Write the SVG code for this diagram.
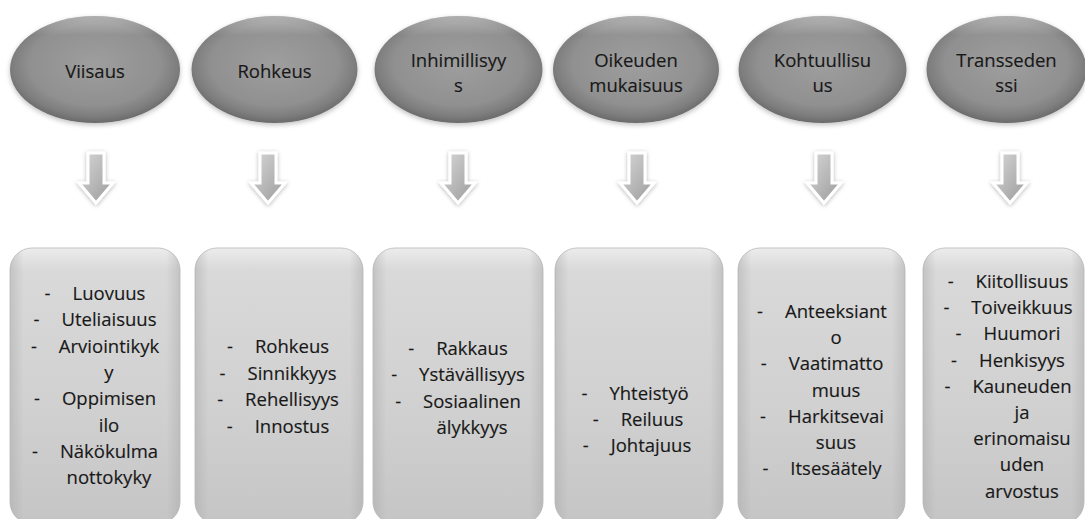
<svg xmlns="http://www.w3.org/2000/svg" width="1085" height="519" viewBox="0 0 1085 519">
  <defs>
    <radialGradient id="ovalFill" cx="50%" cy="45%" r="55%">
      <stop offset="0" stop-color="#9e9e9e"/>
      <stop offset="0.7" stop-color="#909090"/>
      <stop offset="0.88" stop-color="#7e7e7e"/>
      <stop offset="1" stop-color="#6a6a6a"/>
    </radialGradient>
    <linearGradient id="ovalShine" x1="0" y1="0" x2="0" y2="1">
      <stop offset="0" stop-color="#ffffff" stop-opacity="0.35"/>
      <stop offset="0.18" stop-color="#ffffff" stop-opacity="0"/>
      <stop offset="1" stop-color="#ffffff" stop-opacity="0"/>
    </linearGradient>
    <linearGradient id="boxFill" x1="0" y1="0" x2="0" y2="1">
      <stop offset="0" stop-color="#ececec"/>
      <stop offset="0.08" stop-color="#d9d9d9"/>
      <stop offset="0.6" stop-color="#d0d0d0"/>
      <stop offset="1" stop-color="#c5c5c5"/>
    </linearGradient>
    <linearGradient id="boxSides" x1="0" y1="0" x2="1" y2="0">
      <stop offset="0" stop-color="#a8a8a8" stop-opacity="0.45"/>
      <stop offset="0.08" stop-color="#a8a8a8" stop-opacity="0"/>
      <stop offset="0.92" stop-color="#a8a8a8" stop-opacity="0"/>
      <stop offset="1" stop-color="#a8a8a8" stop-opacity="0.45"/>
    </linearGradient>
    <linearGradient id="arrowFill" x1="0" y1="0" x2="1" y2="1">
      <stop offset="0" stop-color="#d8d8d8"/>
      <stop offset="1" stop-color="#9a9a9a"/>
    </linearGradient>
    <filter id="softShadow" x="-10%" y="-10%" width="120%" height="130%">
      <feGaussianBlur in="SourceAlpha" stdDeviation="2.5"/>
      <feOffset dy="2" result="b"/>
      <feFlood flood-color="#000" flood-opacity="0.25"/>
      <feComposite in2="b" operator="in"/>
      <feMerge><feMergeNode/><feMergeNode in="SourceGraphic"/></feMerge>
    </filter>
    <filter id="arrowGlow" x="-40%" y="-20%" width="180%" height="150%">
      <feGaussianBlur in="SourceAlpha" stdDeviation="2"/>
      <feOffset dy="1" result="b"/>
      <feFlood flood-color="#000" flood-opacity="0.3"/>
      <feComposite in2="b" operator="in"/>
      <feMerge><feMergeNode/><feMergeNode in="SourceGraphic"/></feMerge>
    </filter>
    <path id="downArrow" d="M-8,153 H8 V183 H17 L0,203 L-17,183 H-8 Z"/>
  </defs>
  <style>
    .oval { fill: url(#ovalFill); filter: url(#softShadow); }
    .shine { fill: url(#ovalShine); }
    .box { fill: url(#boxFill); stroke: #c4c4c4; stroke-width: 1; }
    .sides { fill: url(#boxSides); }
    .arrow { fill: url(#arrowFill); stroke: #ffffff; stroke-width: 3; stroke-linejoin: miter; filter: url(#arrowGlow); }
    text { font-family: "Open Sans", "Noto Sans", "DejaVu Sans", sans-serif; font-size: 18.5px; fill: #181818; stroke: #181818; stroke-width: 0.15; text-anchor: middle; }
  </style>

  <rect width="1085" height="519" fill="#ffffff"/>

  <!-- top row: virtue ovals -->
  <g id="oval-viisaus">
    <ellipse class="oval" cx="95" cy="69.5" rx="85" ry="53.5"/>
    <ellipse class="shine" cx="95" cy="69.5" rx="85" ry="53.5"/>
    <text x="95" y="77.5">Viisaus</text>
  </g>
  <g id="oval-rohkeus">
    <ellipse class="oval" cx="274.5" cy="69.5" rx="83" ry="53.5"/>
    <ellipse class="shine" cx="274.5" cy="69.5" rx="83" ry="53.5"/>
    <text x="274.5" y="77.5">Rohkeus</text>
  </g>
  <g id="oval-inhimillisyys">
    <ellipse class="oval" cx="458.5" cy="69.5" rx="84" ry="53.5"/>
    <ellipse class="shine" cx="458.5" cy="69.5" rx="84" ry="53.5"/>
    <text x="458.5" y="66.5">Inhimillisyy</text>
    <text x="458.5" y="92">s</text>
  </g>
  <g id="oval-oikeudenmukaisuus">
    <ellipse class="oval" cx="636" cy="69.5" rx="83" ry="53.5"/>
    <ellipse class="shine" cx="636" cy="69.5" rx="83" ry="53.5"/>
    <text x="636" y="66.5">Oikeuden</text>
    <text x="636" y="92">mukaisuus</text>
  </g>
  <g id="oval-kohtuullisuus">
    <ellipse class="oval" cx="822.5" cy="69.5" rx="84" ry="53.5"/>
    <ellipse class="shine" cx="822.5" cy="69.5" rx="84" ry="53.5"/>
    <text x="822.5" y="66.5">Kohtuullisu</text>
    <text x="822.5" y="92">us</text>
  </g>
  <g id="oval-transsendenssi">
    <ellipse class="oval" cx="1006.5" cy="69.5" rx="80" ry="53.5"/>
    <ellipse class="shine" cx="1006.5" cy="69.5" rx="80" ry="53.5"/>
    <text x="1006.5" y="66.5">Transseden</text>
    <text x="1006.5" y="92">ssi</text>
  </g>

  <!-- connectors: block arrows from each oval down to its list -->
  <g id="connectors">
    <use href="#downArrow" class="arrow" x="96"/>
    <use href="#downArrow" class="arrow" x="268"/>
    <use href="#downArrow" class="arrow" x="458"/>
    <use href="#downArrow" class="arrow" x="637"/>
    <use href="#downArrow" class="arrow" x="824"/>
    <use href="#downArrow" class="arrow" x="1010"/>
  </g>

  <!-- bottom row: strength lists -->
  <g id="list-viisaus">
    <rect class="box" x="10" y="248" width="170" height="276" rx="22"/>
    <rect class="sides" x="10" y="248" width="170" height="276" rx="22"/>
    <text x="95" y="300">-<tspan dx="22">Luovuus</tspan></text>
    <text x="95" y="326.3">-<tspan dx="22">Uteliaisuus</tspan></text>
    <text x="95" y="352.6">-<tspan dx="22">Arviointikyk</tspan></text>
    <text x="109" y="379">y</text>
    <text x="95" y="405.3">-<tspan dx="22">Oppimisen</tspan></text>
    <text x="109" y="431.6">ilo</text>
    <text x="95" y="458">-<tspan dx="22">Näkökulma</tspan></text>
    <text x="109" y="484.3">nottokyky</text>
  </g>
  <g id="list-rohkeus">
    <rect class="box" x="195" y="248" width="168" height="276" rx="22"/>
    <rect class="sides" x="195" y="248" width="168" height="276" rx="22"/>
    <text x="278" y="353">-<tspan dx="22">Rohkeus</tspan></text>
    <text x="278" y="379.5">-<tspan dx="22">Sinnikkyys</tspan></text>
    <text x="278" y="406">-<tspan dx="22">Rehellisyys</tspan></text>
    <text x="278" y="432.5">-<tspan dx="22">Innostus</tspan></text>
  </g>
  <g id="list-inhimillisyys">
    <rect class="box" x="373" y="248" width="170" height="276" rx="22"/>
    <rect class="sides" x="373" y="248" width="170" height="276" rx="22"/>
    <text x="458" y="354.5">-<tspan dx="22">Rakkaus</tspan></text>
    <text x="458" y="381">-<tspan dx="22">Ystävällisyys</tspan></text>
    <text x="458" y="407.5">-<tspan dx="22">Sosiaalinen</tspan></text>
    <text x="472" y="434">älykkyys</text>
  </g>
  <g id="list-oikeudenmukaisuus">
    <rect class="box" x="555" y="248" width="168" height="276" rx="22"/>
    <rect class="sides" x="555" y="248" width="168" height="276" rx="22"/>
    <text x="635" y="399.5">-<tspan dx="22">Yhteistyö</tspan></text>
    <text x="638" y="426">-<tspan dx="22">Reiluus</tspan></text>
    <text x="637" y="452">-<tspan dx="22">Johtajuus</tspan></text>
  </g>
  <g id="list-kohtuullisuus">
    <rect class="box" x="738" y="248" width="167" height="276" rx="22"/>
    <rect class="sides" x="738" y="248" width="167" height="276" rx="22"/>
    <text x="822" y="318">-<tspan dx="22">Anteeksiant</tspan></text>
    <text x="836" y="344.2">o</text>
    <text x="822" y="370.4">-<tspan dx="22">Vaatimatto</tspan></text>
    <text x="836" y="396.6">muus</text>
    <text x="822" y="422.8">-<tspan dx="22">Harkitsevai</tspan></text>
    <text x="836" y="449">suus</text>
    <text x="822" y="475.2">-<tspan dx="22">Itsesäätely</tspan></text>
  </g>
  <g id="list-transsendenssi">
    <rect class="box" x="923" y="248" width="161" height="276" rx="22"/>
    <rect class="sides" x="923" y="248" width="161" height="276" rx="22"/>
    <text x="1008" y="288">-<tspan dx="22">Kiitollisuus</tspan></text>
    <text x="1008" y="314.2">-<tspan dx="22">Toiveikkuus</tspan></text>
    <text x="1008" y="340.4">-<tspan dx="22">Huumori</tspan></text>
    <text x="1008" y="366.6">-<tspan dx="22">Henkisyys</tspan></text>
    <text x="1008" y="392.8">-<tspan dx="22">Kauneuden</tspan></text>
    <text x="1022" y="419">ja</text>
    <text x="1022" y="445.2">erinomaisu</text>
    <text x="1022" y="471.4">uden</text>
    <text x="1022" y="497.6">arvostus</text>
  </g>
</svg>
